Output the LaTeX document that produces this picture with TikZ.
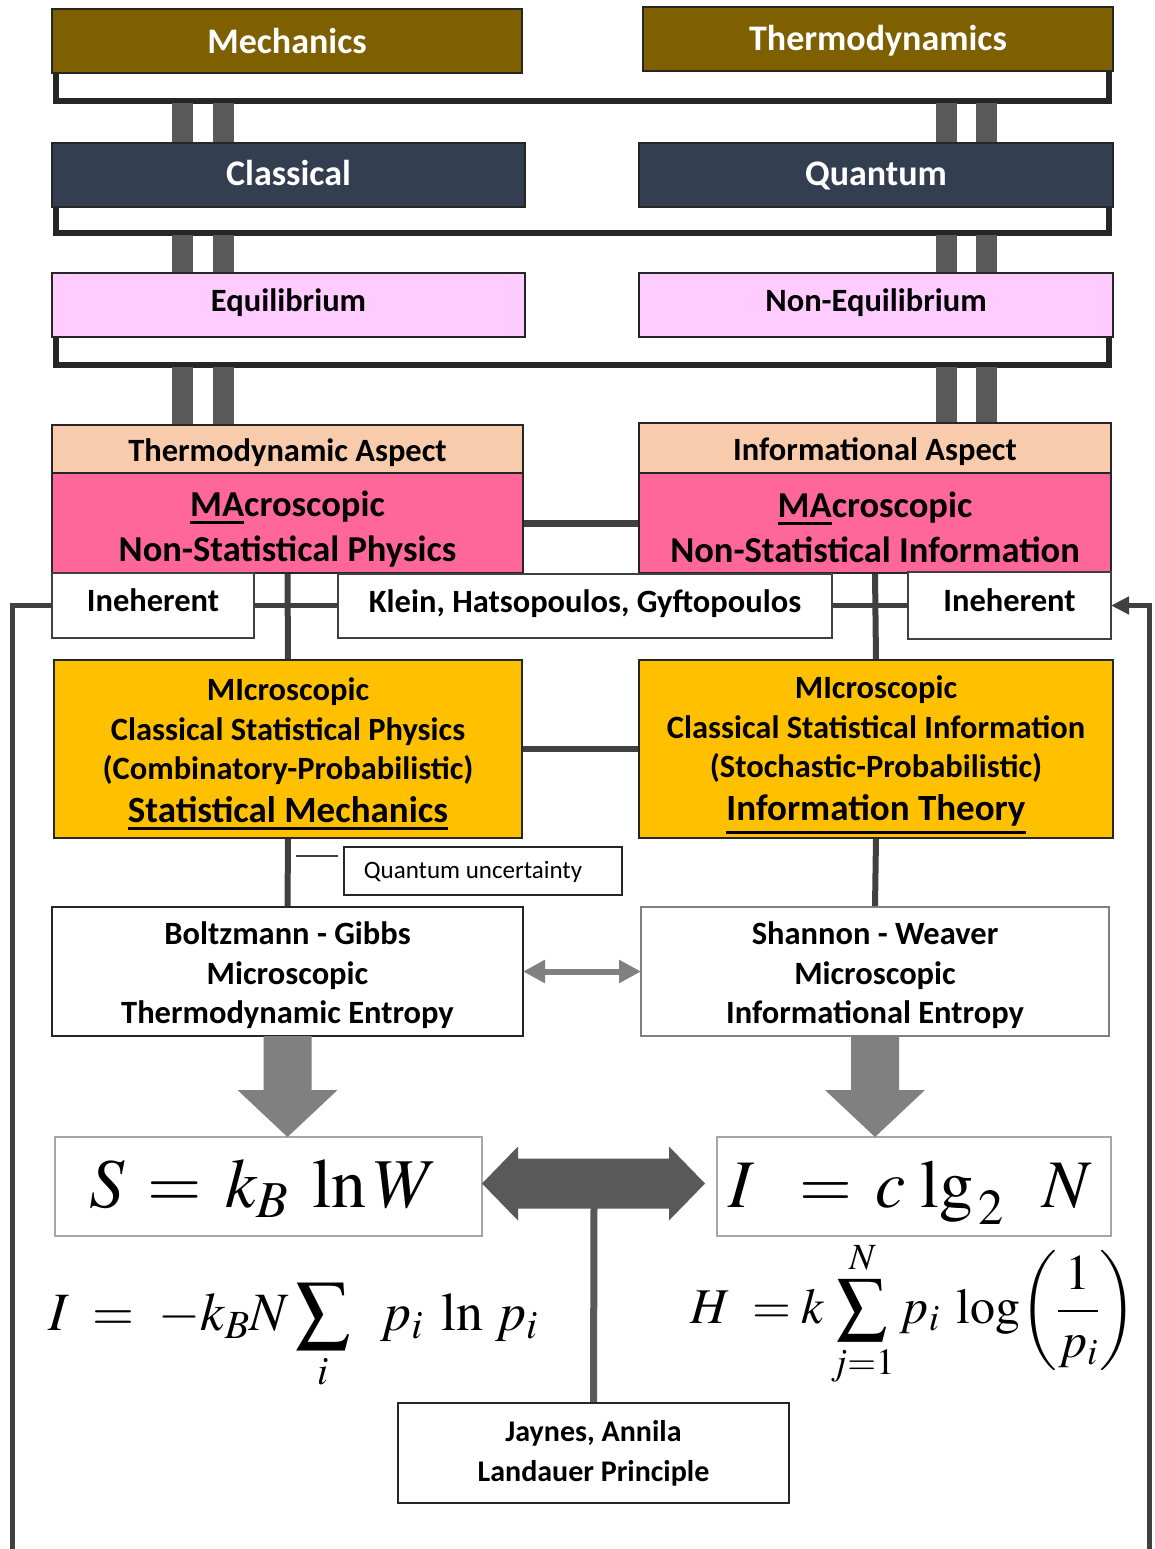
\documentclass[tikz,border=0pt]{standalone}
\usepackage{mathptmx}
\usepackage[no-math]{fontspec}
\setmainfont{Carlito}
\usetikzlibrary{arrows.meta}
\pgfdeclarelayer{bg}
\pgfsetlayers{bg,main}
\definecolor{titlebrown}{HTML}{7F6000}
\definecolor{titleslate}{HTML}{333F50}
\definecolor{lilac}{HTML}{FFCCFF}
\definecolor{peach}{HTML}{F8CBAD}
\definecolor{rose}{HTML}{FF6699}
\definecolor{amber}{HTML}{FFC000}
\definecolor{ink}{HTML}{262626}
\definecolor{wirec}{HTML}{404040}
\definecolor{barfill}{HTML}{595959}
\definecolor{midgray}{HTML}{808080}
\definecolor{lightframe}{HTML}{A6A6A6}
% underline drawn as a rule hanging below the baseline
\newcommand\ulbox[1]{\leavevmode\vtop{\hbox{#1}\kern5pt\hrule height 3pt}}
\newcommand\fs[2]{\fontsize{#1}{#2}\selectfont}

\begin{document}
\begin{tikzpicture}[
  x=1pt, y=-1pt,
  wh/.style 2 args={minimum width=#1pt, minimum height=#2pt},
  cbox/.style={draw=ink, line width=2pt, inner sep=0pt, outer sep=0pt},
  whitebox/.style={cbox, fill=white, draw=wirec},
  formulabox/.style={cbox, fill=white, draw=lightframe},
  titletext/.style={align=center, inner sep=0pt, text=white, font=\fs{36}{40}\bfseries},
  lbltext/.style={align=center, inner sep=0pt, font=\fs{32.5}{39.5}\bfseries},
  bigtext/.style={align=center, inner sep=0pt, font=\fs{36.5}{45}\bfseries},
  frameline/.style={draw=ink, line width=5.5pt},
  thickbar/.style={draw=barfill, line width=21pt},
  wirestyle/.style={draw=wirec, line width=5pt},
]
\useasboundingbox (0,0) rectangle (1154,1549);
\begin{pgfonlayer}{bg}
  \fill[white] (0,0) rectangle (1154,1549);
\end{pgfonlayer}

% ---- top hierarchy ----
\node[cbox, fill=titlebrown, wh={470}{64}] (mech) at (287,41) {};
\node[titletext] (mechT) at (mech.center) {Mechanics};
\node[cbox, fill=titlebrown, wh={470}{64}] (thermo) at (878,39) {};
\node[titletext] (thermoT) at ([yshift=-2pt]thermo.center) {Thermodynamics};
\node[cbox, fill=titleslate, wh={473}{64}] (cls) at (288.5,175) {};
\node[titletext] (clsT) at ([yshift=2pt]cls.center) {Classical};
\node[cbox, fill=titleslate, wh={474}{64}] (qnt) at (876,175) {};
\node[titletext] (qntT) at ([yshift=-1pt]qnt.center) {Quantum};
\node[cbox, fill=lilac, wh={473}{64}] (eq) at (288.5,305) {};
\node[lbltext] (eqT) at ([yshift=2pt]eq.center) {Equilibrium};
\node[cbox, fill=lilac, wh={474}{64}] (neq) at (876,305) {};
\node[lbltext] (neqT) at ([yshift=2pt]neq.center) {Non-Equilibrium};

% ---- aspects ----
\node[cbox, fill=peach, wh={471}{48}] (tasp) at (287.5,449) {};
\node[lbltext] (taspT) at ([yshift=-4pt]tasp.center) {Thermodynamic Aspect};
\node[cbox, fill=peach, wh={472}{50}] (iasp) at (875,448) {};
\node[lbltext] (iaspT) at ([yshift=-4pt]iasp.center) {Informational Aspect};
\node[cbox, fill=rose, wh={471}{100}] (macL) at (287.5,523) {};
\node[bigtext] (macLT) at ([yshift=-6pt]macL.center) {\ulbox{MA}croscopic\\Non-Statistical Physics};
\node[cbox, fill=rose, wh={472}{100}] (macR) at (875,523) {};
\node[bigtext] (macRT) at ([yshift=-4pt]macR.center) {\ulbox{MA}croscopic\\Non-Statistical Information};

\node[whitebox, wh={202}{65}] (ineL) at (153,605.5) {};
\node[lbltext] (ineLT) at ([yshift=5pt]ineL.center) {Ineherent};
\node[whitebox, wh={494}{64}] (klein) at (585,605.5) {};
\node[lbltext] (kleinT) at ([yshift=2pt]klein.center) {Klein, Hatsopoulos, Gyftopoulos};
\node[whitebox, wh={203}{67}] (ineR) at (1009.5,605.5) {};
\node[lbltext] (ineRT) at ([yshift=5pt]ineR.center) {Ineherent};

\node[cbox, fill=amber, wh={468}{178}] (micL) at (288,749) {};
\node[lbltext] (micLT) at ([yshift=-5pt]micL.center)
  {MIcroscopic\\Classical Statistical Physics\\(Combinatory-Probabilistic)\\[3pt]
   {\fs{37}{40}\ulbox{Statistical Mechanics}}};
\node[cbox, fill=amber, wh={474}{178}] (micR) at (876,749) {};
\node[lbltext] (micRT) at ([yshift=-6pt]micR.center)
  {MIcroscopic\\Classical Statistical Information\\(Stochastic-Probabilistic)\\[3pt]
   {\fs{37}{40}\ulbox{Information Theory}}};

\node[cbox, fill=white, wh={278}{48}] (qu) at (483,871) {};
\node[inner sep=0pt, font=\fs{25}{30}] (quT) at ([xshift=-10pt,yshift=-1pt]qu.center) {Quantum uncertainty};

\node[cbox, fill=white, wh={471}{129}] (boltz) at (287.5,971.5) {};
\node[lbltext] (boltzT) at ([yshift=-4pt]boltz.center)
  {Boltzmann - Gibbs\\Microscopic\\Thermodynamic Entropy};
\node[cbox, fill=white, draw=midgray, wh={468}{129}] (shan) at (875,971.5) {};
\node[lbltext] (shanT) at ([yshift=-4pt]shan.center)
  {Shannon - Weaver\\Microscopic\\Informational Entropy};

% ---- formulas ----
\node[formulabox, wh={427}{99}] (fS) at (268.5,1186.5) {};
\node[anchor=base, inner sep=0pt, font=\fs{70}{76}] (fST) at ([xshift=-5pt,yshift=-20.5pt]fS.center)
  {$S\,=\,k_{B}\;\ln W$};
\node[formulabox, wh={394}{99}] (fI) at (914,1186.5) {};
\node[anchor=base, inner sep=0pt, font=\fs{68}{76}] (fIT) at ([xshift=-4pt,yshift=-20.5pt]fI.center)
  {$I\;\;=\,c\,\lg_{\,2}\;\;N$};
\node[anchor=base, inner sep=0pt, font=\fs{54}{60}] (eqI) at (293,1330)
  {$I \;=\; -k_{B}N\displaystyle\sum_{i}\;\; p_{i}\;\ln\, p_{i}$};
\node[anchor=base, inner sep=0pt, font=\fs{50}{56}] (eqH) at (913,1323)
  {$\displaystyle H \;= k\sum_{j=1}^{N} p_{i}\;\log\!\left(\frac{1}{p_{i}}\right)$};

\node[cbox, fill=white, wh={391}{100}] (jay) at (593.5,1453) {};
\node[lbltext, font=\fs{30}{40}\bfseries] (jayT) at (jay.center) {Jaynes, Annila\\Landauer Principle};

\coordinate (loopL) at (12,1549);
\coordinate (loopR) at (1149,1549);
\coordinate (qtip) at (296,856);
\coordinate (dblmid) at (594,1207);

\begin{pgfonlayer}{bg}
  % bracket frames under each pair of boxes
  \draw[frameline] (56,72) -- (56,101) -- (1109,101) -- (1109,70);
  \draw[frameline] (56,206) -- (56,233) -- (1109,233) -- (1109,206);
  \draw[frameline] (56,336) -- (56,365) -- (1109,365) -- (1109,336);
  % double bars linking the levels
  \foreach \bx in {182,223,946,986}{
    \draw[thickbar] (\bx,103) -- (\bx,0 |- cls.north);
    \draw[thickbar] (\bx,235) -- (\bx,0 |- eq.north);
    \draw[thickbar] (\bx,367) -- (\bx,0 |- tasp.north);
  }
  % connectors
  \draw[wirestyle, line width=7pt] (macL.east) -- (macR.west);
  \draw[wirestyle, line width=6pt] (micL.east) -- (micR.west);
  \draw[wirestyle, line width=6pt] (macL.south) -- (micL.north);
  \draw[wirestyle, line width=6pt] (macR.south) -- (micR.north);
  \draw[wirestyle, line width=6pt] (micL.south) -- (boltz.north);
  \draw[wirestyle, line width=6pt] (micR.south) -- (shan.north);
  \draw[wirestyle] (ineL.east) -- (klein.west);
  \draw[wirestyle] (klein.east) -- (ineR.west);
  \draw[wirestyle] (ineL.west) -| (loopL);
  \draw[wirestyle, -{Triangle[length=18pt,width=17pt]}] (loopR) |- (ineR.east);
  \draw[draw=wirec, line width=2pt] (qtip) -- ++(42,0);
  \draw[draw=barfill, line width=7pt] (dblmid) -- (jay.north);
\end{pgfonlayer}

% grey double arrow between the entropies
\draw[draw=midgray, line width=6pt,
  {Triangle[length=22pt,width=22pt]}-{Triangle[length=22pt,width=22pt]}]
  (boltz.east) -- (shan.west);

% block arrows down to the formulas
\fill[midgray] (boltz.south) ++(-24,0) -- ++(0,54) -- ++(-26,0)
  -- (boltz.south |- fS.north) -- ++(50,-47) -- ++(-26,0) -- ++(0,-54) -- cycle;
\fill[midgray] (shan.south) ++(-24,0) -- ++(0,54) -- ++(-26,0)
  -- (shan.south |- fI.north) -- ++(50,-47) -- ++(-26,0) -- ++(0,-54) -- cycle;

% dark double block arrow between the formulas
\fill[barfill] ([yshift=3pt]fS.east) -- ++(36,-37) -- ++(0,12) -- ++(151,0) -- ++(0,-12)
  -- ++(36,37) -- ++(-36,37) -- ++(0,-12) -- ++(-151,0) -- ++(0,12) -- cycle;
\end{tikzpicture}
\end{document}
